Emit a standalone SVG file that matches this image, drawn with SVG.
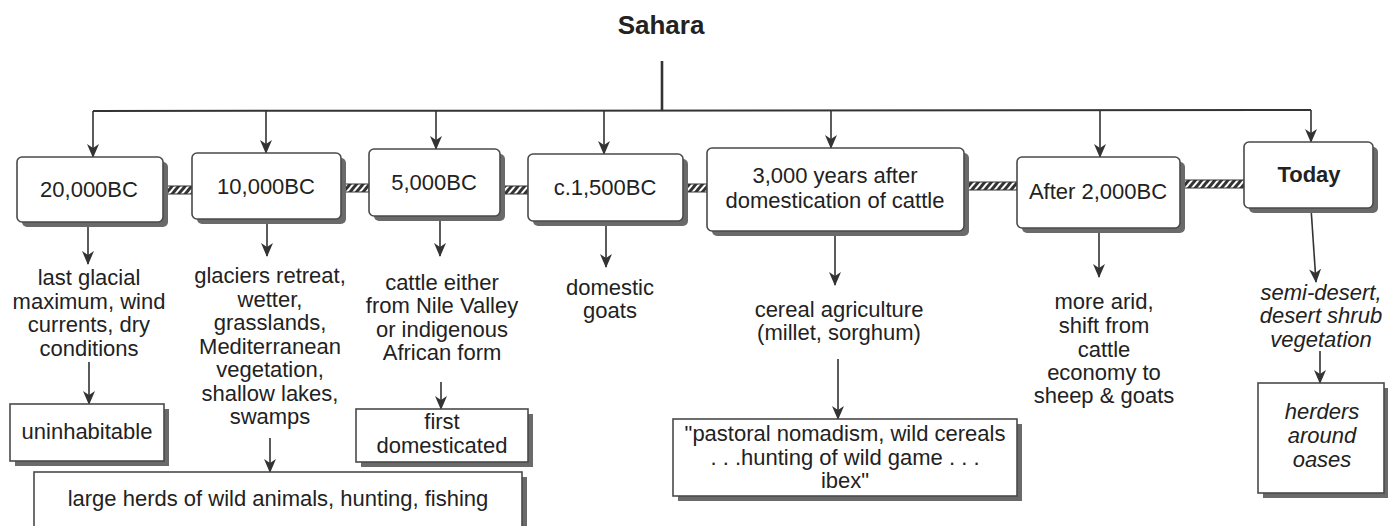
<svg xmlns="http://www.w3.org/2000/svg" width="1388" height="526" viewBox="0 0 1388 526">
<style>
.box{fill:#fff;stroke:#4a4a4a;stroke-width:1.6}
.sh{fill:#6a6a6a}
.t{font-family:"Liberation Sans",Arial,sans-serif;font-size:22px;fill:#222;text-anchor:middle}
.i{font-style:italic}
.b{font-weight:bold}
.ln{stroke:#333;stroke-width:1.6;fill:none}
.arr{marker-end:url(#ah)}
.rope{fill:url(#hatch);stroke:#333;stroke-width:1}
</style>
<defs>
<marker id="ah" viewBox="0 0 14 12" refX="13" refY="6" markerWidth="14" markerHeight="12" markerUnits="userSpaceOnUse" orient="auto">
<path d="M0,0 L14,6 L0,12 L4,6 z" fill="#333"/>
</marker>
<pattern id="hatch" patternUnits="userSpaceOnUse" width="5" height="5" patternTransform="rotate(40)">
<rect x="0" y="0" width="5" height="5" fill="#fff"/>
<rect x="0" y="0" width="3" height="5" fill="#333"/>
</pattern>
</defs>
<rect width="1388" height="526" fill="#fff"/>

<g id="connectors">
<line class="ln" x1="662" y1="61" x2="662" y2="111" style="stroke-width:2.6"/>
<line class="ln" x1="93" y1="111" x2="1311" y2="110" style="stroke-width:2"/>
<line class="ln arr" x1="93" y1="111" x2="93" y2="157"/>
<line class="ln arr" x1="266" y1="111" x2="266" y2="153"/>
<line class="ln arr" x1="436" y1="111" x2="436" y2="149"/>
<line class="ln arr" x1="604" y1="111" x2="604" y2="154"/>
<line class="ln arr" x1="831" y1="110" x2="831" y2="148"/>
<line class="ln arr" x1="1100" y1="110" x2="1100" y2="157"/>
<line class="ln arr" x1="1311" y1="110" x2="1311" y2="142"/>

<line class="ln arr" x1="88" y1="222" x2="88" y2="264"/>
<line class="ln arr" x1="267" y1="219" x2="267" y2="256"/>
<line class="ln arr" x1="440" y1="216" x2="440" y2="256"/>
<line class="ln arr" x1="606" y1="221" x2="606" y2="267"/>
<line class="ln arr" x1="835" y1="231" x2="835" y2="285"/>
<line class="ln arr" x1="1099" y1="228" x2="1099" y2="277"/>
<line class="ln arr" x1="1311" y1="208" x2="1316" y2="282"/>

<line class="ln arr" x1="89" y1="362" x2="89" y2="404"/>
<line class="ln arr" x1="270" y1="438" x2="270" y2="472"/>
<line class="ln arr" x1="441" y1="382" x2="441" y2="409"/>
<line class="ln arr" x1="838" y1="359" x2="838" y2="419"/>
<line class="ln arr" x1="1320" y1="351" x2="1320" y2="383"/>

<rect class="rope" x="167" y="186" width="25" height="8"/>
<rect class="rope" x="345" y="184" width="24" height="8"/>
<rect class="rope" x="503" y="186" width="25" height="8"/>
<rect class="rope" x="687" y="184" width="20" height="8"/>
<rect class="rope" x="968" y="182" width="49" height="8"/>
<rect class="rope" x="1184" y="180" width="60" height="8"/>
</g>

<g id="node-sahara">
<text class="t b" x="661" y="34" style="font-size:26px">Sahara</text>
</g>

<g id="node-20000bc">
<rect class="sh" x="22" y="162" width="146" height="65" rx="5"/>
<rect class="box" x="17" y="157" width="146" height="65" rx="5"/>
<text class="t" x="89" y="197">20,000BC</text>
</g>
<g id="node-10000bc">
<rect class="sh" x="197" y="158" width="149" height="66" rx="5"/>
<rect class="box" x="192" y="153" width="149" height="66" rx="5"/>
<text class="t" x="266" y="194">10,000BC</text>
</g>
<g id="node-5000bc">
<rect class="sh" x="374" y="154" width="131" height="67" rx="5"/>
<rect class="box" x="369" y="149" width="131" height="67" rx="5"/>
<text class="t" x="434" y="190">5,000BC</text>
</g>
<g id="node-1500bc">
<rect class="sh" x="533" y="159" width="155" height="67" rx="5"/>
<rect class="box" x="528" y="154" width="155" height="67" rx="5"/>
<text class="t" x="605" y="195">c.1,500BC</text>
</g>
<g id="node-3000years">
<rect class="sh" x="712" y="153" width="257" height="83" rx="5"/>
<rect class="box" x="707" y="148" width="257" height="83" rx="5"/>
<text class="t" x="835" y="183">3,000 years after</text>
<text class="t" x="835" y="208">domestication of cattle</text>
</g>
<g id="node-2000bc">
<rect class="sh" x="1022" y="162" width="163" height="71" rx="5"/>
<rect class="box" x="1017" y="157" width="163" height="71" rx="5"/>
<text class="t" x="1098" y="199">After 2,000BC</text>
</g>
<g id="node-today">
<rect class="sh" x="1249" y="147" width="129" height="66" rx="5"/>
<rect class="box" x="1244" y="142" width="129" height="66" rx="5"/>
<text class="t b" x="1309" y="182">Today</text>
</g>

<g id="desc-20000bc">
<text class="t" x="89" y="285">last glacial</text>
<text class="t" x="89" y="309">maximum, wind</text>
<text class="t" x="89" y="332">currents, dry</text>
<text class="t" x="89" y="356">conditions</text>
</g>
<g id="desc-10000bc">
<text class="t" x="270" y="283">glaciers retreat,</text>
<text class="t" x="270" y="306.5">wetter,</text>
<text class="t" x="270" y="330">grasslands,</text>
<text class="t" x="270" y="353.5">Mediterranean</text>
<text class="t" x="270" y="377">vegetation,</text>
<text class="t" x="270" y="400.5">shallow lakes,</text>
<text class="t" x="270" y="424">swamps</text>
</g>
<g id="desc-5000bc">
<text class="t" x="442" y="290">cattle either</text>
<text class="t" x="442" y="313">from Nile Valley</text>
<text class="t" x="442" y="337">or indigenous</text>
<text class="t" x="442" y="360">African form</text>
</g>
<g id="desc-1500bc">
<text class="t" x="610" y="295">domestic</text>
<text class="t" x="610" y="318">goats</text>
</g>
<g id="desc-3000years">
<text class="t" x="839" y="317">cereal agriculture</text>
<text class="t" x="839" y="340">(millet, sorghum)</text>
</g>
<g id="desc-2000bc">
<text class="t" x="1104" y="309">more arid,</text>
<text class="t" x="1104" y="333">shift from</text>
<text class="t" x="1104" y="357">cattle</text>
<text class="t" x="1104" y="380">economy to</text>
<text class="t" x="1104" y="403">sheep &amp; goats</text>
</g>
<g id="desc-today">
<text class="t i" x="1321" y="300">semi-desert,</text>
<text class="t i" x="1321" y="323">desert shrub</text>
<text class="t i" x="1321" y="347">vegetation</text>
</g>

<g id="node-uninhabitable">
<rect class="sh" x="15" y="409" width="154" height="57"/>
<rect class="box" x="10" y="404" width="154" height="57"/>
<text class="t" x="87" y="439">uninhabitable</text>
</g>
<g id="node-large-herds">
<rect class="sh" x="39" y="477" width="488" height="60"/>
<rect class="box" x="34" y="472" width="488" height="60"/>
<text class="t" x="278" y="506">large herds of wild animals, hunting, fishing</text>
</g>
<g id="node-first-domesticated">
<rect class="sh" x="361" y="414" width="172" height="53"/>
<rect class="box" x="356" y="409" width="172" height="53"/>
<text class="t" x="442" y="429">first</text>
<text class="t" x="442" y="453">domesticated</text>
</g>
<g id="node-pastoral">
<rect class="sh" x="678" y="424" width="344" height="77"/>
<rect class="box" x="673" y="419" width="344" height="77"/>
<text class="t" x="845" y="441">"pastoral nomadism, wild cereals</text>
<text class="t" x="845" y="465">. . .hunting of wild game . . .</text>
<text class="t" x="845" y="488">ibex"</text>
</g>
<g id="node-oases">
<rect class="sh" x="1263" y="388" width="126" height="110"/>
<rect class="box" x="1258" y="383" width="126" height="110"/>
<text class="t i" x="1322" y="419">herders</text>
<text class="t i" x="1322" y="443">around</text>
<text class="t i" x="1322" y="467">oases</text>
</g>
</svg>
